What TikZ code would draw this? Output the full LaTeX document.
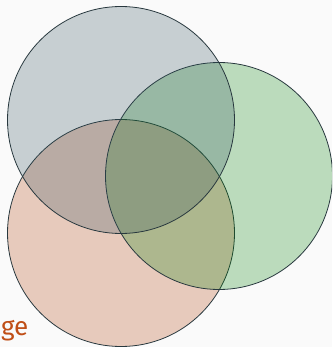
\documentclass[tikz,border=0pt]{standalone}
\usepackage{fontspec}
\setmainfont{Fira Sans}
\definecolor{bgc}{RGB}{250,250,250}
\definecolor{slatec}{RGB}{50,82,94}
\definecolor{greenc}{RGB}{2,130,6}
\definecolor{orangec}{RGB}{178,62,6}
\definecolor{strokec}{RGB}{40,56,62}
\definecolor{textc}{RGB}{192,78,22}
\begin{document}
\begin{tikzpicture}[x=1pt,y=-1pt,
  vset/.style={draw=strokec,line width=0.8pt,fill opacity=0.25}]
\fill[bgc] (0,0) rectangle (332,347);
\useasboundingbox (0,0) rectangle (332,347);
\begin{scope}
\clip (0,0) rectangle (332,347);
\node[vset,fill=orangec,circle,minimum size=227pt,inner sep=0pt] (orange) at (121,233) {};
\node[vset,fill=greenc,circle,minimum size=227pt,inner sep=0pt] (green) at (219,176) {};
\node[vset,fill=slatec,circle,minimum size=227pt,inner sep=0pt] (slate) at (121,120) {};
\node[anchor=base east,inner sep=0pt,text=textc,font=\fontsize{26}{30}\selectfont] (lbl) at (28.5,335.5) {ge};
\end{scope}
\end{tikzpicture}
\end{document}
